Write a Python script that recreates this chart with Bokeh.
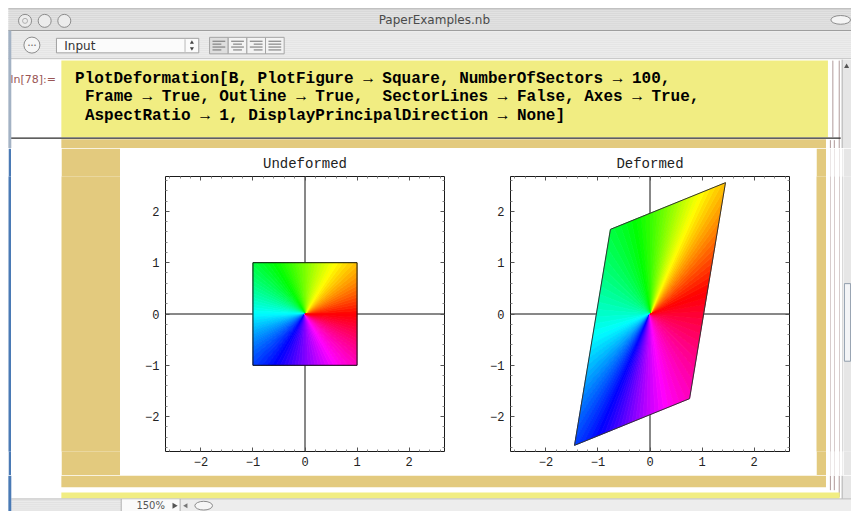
import colorsys
import numpy as np
from bokeh.plotting import figure
from bokeh.layouts import column, row
from bokeh.models import Range1d, LinearAxis, FixedTicker, Span
from bokeh.core.properties import value
from bokeh.embed import file_html
from bokeh.resources import INLINE

# ---------------- data ----------------
N_SECTORS = 100
SQUARE_X = [1, -1, -1, 1]
SQUARE_Y = [1, 1, -1, -1]
B = [[1.105, 0.345],
     [0.455, 2.105]]          # deformation gradient
PLOT_RANGE = 2.68
MAJOR_TICKS = [-2, -1, 0, 1, 2]
TICK_LABELS = ["\u22122", "\u22121", "0", "1", "2"]
MINOR_TICKS = [-2.6, -2.4, -2.2, -1.8, -1.6, -1.4, -1.2, -0.8, -0.6, -0.4, -0.2,
               0.2, 0.4, 0.6, 0.8, 1.2, 1.4, 1.6, 1.8, 2.2, 2.4, 2.6]
TITLES = ["Undeformed", "Deformed"]
CODE_LINES = [
    "PlotDeformation[B, PlotFigure \u2192 Square, NumberOfSectors \u2192 100,",
    "Frame \u2192 True, Outline \u2192 True,\u00a0 SectorLines \u2192 False, Axes \u2192 True,",
    "AspectRatio \u2192 1, DisplayPrincipalDirection \u2192 None]",
]
CELL_LABEL = "In[78]:="
WINDOW_TITLE = "PaperExamples.nb"
STYLE_LABEL = "Input"
ZOOM_LABEL = "150%"

YELLOW = "#f1ed82"
TAN = "#e3ca7e"
BRACKET = "#b09a9a"
EDGE_BLUE = "#4a7ab5"
SCROLL = "#e6e6e6"
MONO = "Liberation Mono"

# screen scale: reference window (867x527) drawn into 851x511
SX = 851 / 867
SY = 511 / 527


# ---------------- sectors of the unit square ----------------
def square_point(t):
    c, s = np.cos(t), np.sin(t)
    r = 1.0 / max(abs(c), abs(s))
    return r * c, r * s


corner_angles = [np.arctan2(y, x) % (2 * np.pi) for x, y in zip(SQUARE_X, SQUARE_Y)]
sec_xs, sec_ys, sec_cols = [], [], []
for k in range(N_SECTORS):
    t0 = 2 * np.pi * k / N_SECTORS
    t1 = 2 * np.pi * (k + 1) / N_SECTORS
    pts = [(0.0, 0.0), square_point(t0)]
    for ca, cx, cy in sorted(zip(corner_angles, SQUARE_X, SQUARE_Y)):
        if t0 < ca < t1:
            pts.append((cx, cy))
    pts.append(square_point(t1))
    sec_xs.append([p[0] for p in pts])
    sec_ys.append([p[1] for p in pts])
    h = ((t0 + t1) / 2) / (2 * np.pi)
    r, g, b = colorsys.hsv_to_rgb(h, 1.0, 1.0)
    sec_cols.append("#%02x%02x%02x" % (int(r * 255), int(g * 255), int(b * 255)))


def deform(xs, ys):
    X = np.array(xs, dtype=float)
    Y = np.array(ys, dtype=float)
    return list(B[0][0] * X + B[0][1] * Y), list(B[1][0] * X + B[1][1] * Y)


def_xs, def_ys = [], []
for xs, ys in zip(sec_xs, sec_ys):
    dx, dy = deform(xs, ys)
    def_xs.append(dx)
    def_ys.append(dy)
out_x = SQUARE_X + SQUARE_X[:1]
out_y = SQUARE_Y + SQUARE_Y[:1]
dout_x, dout_y = deform(out_x, out_y)

# vertical structure of the middle row (screen px)
HEAD_H, MID_H, FOOT_H = 148, 327, 36
BT, FH, BB = 28, 275, 24


# ---------------- plot panels ----------------
def panel(title, xs, ys, ox, oy, bl, fw, br, outline_color):
    p = figure(frame_width=fw, frame_height=FH,
               min_border_left=bl, min_border_right=br,
               min_border_top=BT, min_border_bottom=BB,
               x_range=Range1d(-PLOT_RANGE, PLOT_RANGE),
               y_range=Range1d(-PLOT_RANGE, PLOT_RANGE),
               x_axis_type=None, y_axis_type=None,
               output_backend="svg", toolbar_location=None, title=title)
    p.background_fill_color = "white"
    p.border_fill_color = "white"
    p.outline_line_color = None
    p.title.align = "center"
    p.title.text_font = MONO
    p.title.text_font_size = "14px"
    p.title.text_font_style = "normal"
    p.title.text_color = "#222222"
    for side in ("below", "left", "above", "right"):
        ax = LinearAxis(ticker=FixedTicker(ticks=MAJOR_TICKS, minor_ticks=MINOR_TICKS))
        ax.axis_line_color = "#1a1a1a"
        ax.major_tick_in = 4
        ax.major_tick_out = 0
        ax.minor_tick_in = 2
        ax.minor_tick_out = 0
        ax.major_tick_line_color = "#555555"
        ax.minor_tick_line_color = "#888888"
        if side in ("below", "left"):
            ax.major_label_overrides = {t: l for t, l in zip(MAJOR_TICKS, TICK_LABELS)}
            ax.major_label_text_font = MONO
            ax.major_label_text_font_size = "12px"
            ax.major_label_text_color = "#222222"
            ax.major_label_standoff = 5 if side == "below" else 6
        else:
            ax.major_label_text_color = None
            ax.major_label_text_alpha = 0
            ax.major_label_text_font_size = "1px"
            ax.major_label_standoff = 0
        p.add_layout(ax, side)
    p.add_layout(Span(location=0, dimension="height", line_color="#111111",
                      line_width=1, level="underlay"))
    p.add_layout(Span(location=0, dimension="width", line_color="#111111",
                      line_width=1, level="underlay"))
    p.patches(xs, ys, fill_color=sec_cols, line_color=sec_cols, line_width=0.8)
    p.line(ox, oy, line_color=outline_color, line_width=1)
    return p


pu = panel(TITLES[0], sec_xs, sec_ys, out_x, out_y, 45, 279, 23, "#111111")
pd = panel(TITLES[1], def_xs, def_ys, dout_x, dout_y, 43, 279, 27, "#333333")


# ---------------- window chrome (drawn in reference-pixel units) ----------------
def chrome(wpx, hpx, x0, y0):
    x1 = x0 + wpx / SX
    y1 = y0 + hpx / SY
    f = figure(width=wpx, height=hpx,
               x_range=Range1d(x0, x1), y_range=Range1d(y1, y0),
               x_axis_type=None, y_axis_type=None, min_border=0,
               output_backend="svg", toolbar_location=None)
    f.background_fill_color = "white"
    f.border_fill_color = "white"
    f.outline_line_color = None
    return f


def strip(wpx, color):
    f = figure(width=wpx, height=MID_H, min_border_left=0, min_border_right=0,
               min_border_top=BT, min_border_bottom=BB,
               x_range=Range1d(0, 1), y_range=Range1d(0, 1),
               x_axis_type=None, y_axis_type=None,
               output_backend="svg", toolbar_location=None)
    f.background_fill_color = color
    f.border_fill_color = color
    f.outline_line_color = None
    return f


def box(f, x0, x1, y0, y1, color, line=None):
    f.quad(left=x0, right=x1, top=y0, bottom=y1, fill_color=color, line_color=line)


def seg(f, x0, y0, x1, y1, color, w=1):
    f.segment(x0=[x0], y0=[y0], x1=[x1], y1=[y1], line_color=color, line_width=w)


def txt(f, x, y, s, font, size, color, style="normal", align="left"):
    f.text(x=[x], y=[y], text=[s], text_font=value(font), text_font_size=size,
           text_color=color, text_font_style=style, text_align=align,
           text_baseline="middle")


head_y1 = HEAD_H / SY
mid_y1 = (HEAD_H + MID_H) / SY

# header
hd = chrome(851, HEAD_H, 0, 0)
box(hd, 8, 867, 8, 31, "#e3e3e3")
for yy in range(9, 31, 2):
    seg(hd, 8, yy + 0.5, 867, yy + 0.5, "#d8d8d8")
seg(hd, 8, 8.5, 867, 8.5, "#b5b5b5")
seg(hd, 8, 31, 867, 31, "#9a9a9a")
txt(hd, 442, 20, WINDOW_TITLE, "DejaVu Sans", "12px", "#4a4a4a", align="center")
hd.scatter(x=[25, 45, 65], y=[21, 21, 21], size=13, fill_color="#ececec",
           line_color="#8c8c8c")
hd.scatter(x=[25], y=[21], size=5, fill_color=None, line_color="#b0b0b0")
hd.ellipse(x=[856], y=[20], width=20, height=9, fill_color="#f4f4f4",
           line_color="#8c8c8c")
box(hd, 8, 867, 31.5, 60, "#ededed")
for yy in range(33, 60, 2):
    seg(hd, 8, yy + 0.5, 867, yy + 0.5, "#e4e4e4")
seg(hd, 8, 60, 867, 60, "#c4c4c4")
hd.scatter(x=[32], y=[46], size=16, fill_color="#f6f6f6", line_color="#8c8c8c")
txt(hd, 32, 46, "\u2022\u2022\u2022", "DejaVu Sans", "5px", "#555555", align="center")
box(hd, 57, 202, 39, 54, "#fbfbfb", "#a0a0a0")
txt(hd, 65, 46.5, STYLE_LABEL, "DejaVu Sans", "12px", "#333333")
seg(hd, 188, 40, 188, 53, "#b8b8b8")
hd.scatter(x=[195], y=[43.5], size=4, marker="triangle", fill_color="#444444", line_color=None)
hd.scatter(x=[195], y=[49.5], size=4, marker="inverted_triangle", fill_color="#444444", line_color=None)
for i, bx in enumerate([213, 232, 251, 270]):
    box(hd, bx, bx + 19, 38, 55, "#dedede" if i == 0 else "#f3f3f3", "#a4a4a4")
    for j, yy in enumerate([42, 45, 48, 51]):
        ln = 13 if j % 2 == 0 else 9
        if i == 0:
            a = bx + 3
        elif i == 1:
            a = bx + 9.5 - ln / 2
        elif i == 2:
            a = bx + 16 - ln
        else:
            a, ln = bx + 3, 13
        seg(hd, a, yy, a + ln, yy, "#707070")
box(hd, 62, 843, 62, 141, YELLOW)
txt(hd, 10, 81, CELL_LABEL, "DejaVu Sans", "11px", "#9a5555")
for (x0, y0), s in zip([(76, 81), (86, 100), (86, 119)], CODE_LINES):
    txt(hd, x0, y0, s, MONO, "16px", "#000000", style="bold")
seg(hd, 848, 62, 848, 141, BRACKET)
seg(hd, 854.5, 62, 854.5, head_y1, BRACKET)
seg(hd, 10, 142, 856, 142, "#2a2a2a", 1.2)
box(hd, 62, 841, 143, head_y1, TAN)
seg(hd, 845.5, 144, 845.5, head_y1, BRACKET)
seg(hd, 849.5, 144, 849.5, head_y1, BRACKET)
box(hd, 857, 867, 61, head_y1, SCROLL, None)
seg(hd, 857.5, 61, 857.5, head_y1, "#b4b4b4")
hd.scatter(x=[862], y=[68], size=5, marker="triangle", fill_color="#555555", line_color=None)
box(hd, 8, 11, 31, head_y1, "#a3b2c4")

# middle row: uniform strips beside the two panels
left_strips = [strip(8, "white"), strip(3, EDGE_BLUE), strip(50, "white"), strip(59, TAN)]
right_strips = [strip(10, TAN), strip(4, "white"), strip(1, BRACKET), strip(3, "white"),
                strip(1, BRACKET), strip(4, "white"), strip(1, BRACKET), strip(2, "white"),
                strip(1, "#b4b4b4")]
sb = figure(width=8, height=MID_H, min_border_left=0, min_border_right=0,
            min_border_top=BT, min_border_bottom=BB,
            x_range=Range1d(858, 867),
            y_range=Range1d((HEAD_H + BT + FH) / SY, (HEAD_H + BT) / SY),
            x_axis_type=None, y_axis_type=None,
            output_backend="svg", toolbar_location=None)
sb.background_fill_color = SCROLL
sb.border_fill_color = SCROLL
sb.outline_line_color = None
box(sb, 859, 866, 292, 372, "#f4f5f7", "#8f9cab")
right_strips.append(sb)

# footer
ft = chrome(851, FOOT_H, 0, mid_y1)
box(ft, 62, 841, mid_y1, 502, TAN)
for xx in (845.5, 849.5):
    seg(ft, xx, mid_y1, xx, 505, BRACKET)
seg(ft, 854.5, mid_y1, 854.5, 512, BRACKET)
box(ft, 62, 855, 507.5, 513.5, YELLOW)
box(ft, 857, 867, mid_y1, 514, SCROLL)
seg(ft, 857.5, mid_y1, 857.5, 514, "#b4b4b4")
box(ft, 11, 867, 514, 527, "#ededed")
for yy in range(515, 527, 2):
    seg(ft, 11, yy + 0.5, 123, yy + 0.5, "#e0e0e0")
seg(ft, 11, 514, 867, 514, "#bdbdbd")
box(ft, 123, 183, 514.5, 527, "#fafafa")
seg(ft, 123, 514, 123, 527, "#b0b0b0")
seg(ft, 183, 514, 183, 527, "#b0b0b0")
txt(ft, 153, 521, ZOOM_LABEL, "DejaVu Sans", "10px", "#555555", align="center")
ft.scatter(x=[177], y=[521], size=6, marker="triangle", angle=-np.pi / 2,
           fill_color="#555555", line_color=None)
ft.scatter(x=[189], y=[521], size=5, marker="triangle", angle=np.pi / 2,
           fill_color="#777777", line_color=None)
ft.ellipse(x=[207], y=[521], width=18, height=9, fill_color="#f6f6f6", line_color="#8c8c8c")
box(ft, 8, 11, mid_y1, 527, EDGE_BLUE)

middle = row(*left_strips, pu, pd, *right_strips, spacing=0)
layout = column(hd, middle, ft, spacing=0)

with open("out.html", "w") as fh:
    fh.write(file_html(layout, INLINE))
